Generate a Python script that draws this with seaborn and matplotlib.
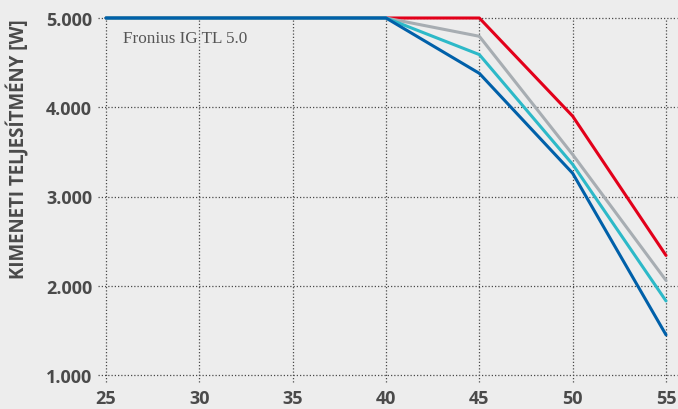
import numpy as np
import pandas as pd
import matplotlib.pyplot as plt
import seaborn as sns

# temperature (deg C) vs output power (W)
temps = [25, 30, 35, 40, 45, 50, 55]
red_vals = [5000, 5000, 5000, 5000, 5000, 3900, 2340]
gray_vals = [5000, 5000, 5000, 5000, 4795, 3470, 2060]
cyan_vals = [5000, 5000, 5000, 5000, 4590, 3360, 1830]
blue_vals = [5000, 5000, 5000, 5000, 4380, 3260, 1450]

series_names = ['red', 'gray', 'cyan', 'blue']
series_colors = ['#e2001a', '#a7adb2', '#2db9c8', '#0060a9']

y_ticks = [1000, 2000, 3000, 4000, 5000]
y_ticklabels = ['1.000', '2.000', '3.000', '4.000', '5.000']

df = pd.DataFrame({'temp': temps * 4,
                   'power': red_vals + gray_vals + cyan_vals + blue_vals,
                   'series': np.repeat(series_names, len(temps))})

sns.set_style('white')
plt.rcParams['font.family'] = ['Open Sans', 'DejaVu Sans']

fig = plt.figure(figsize=(6.78, 4.10), dpi=100)
fig.patch.set_facecolor('#ededed')
ax = fig.add_axes([106/678, 34/410, 560/678, 357/410])
ax.set_facecolor('#ededed')

# dotted grid, sticking out a bit past the axes like small ticks
grid_kw = dict(linestyle=(0, (1, 1.6)), color='#4a4a4a', linewidth=0.9,
               clip_on=False, zorder=0)
for yv in y_ticks:
    ax.axhline(yv, xmin=-0.014, xmax=1.02, **grid_kw)
for xv in temps:
    ax.axvline(xv, ymin=-0.02, ymax=1.0, **grid_kw)

sns.lineplot(data=df, x='temp', y='power', hue='series', hue_order=series_names,
             palette=series_colors, linewidth=2.2, legend=False, ax=ax, clip_on=False)

ax.set_xlim(25, 55)
ax.set_ylim(1000, 5000)
ax.set_xticks(temps)
ax.set_yticks(y_ticks)
ax.set_yticklabels(y_ticklabels)
for s in ax.spines.values():
    s.set_visible(False)
ax.tick_params(length=0, labelsize=13, labelcolor='#4a4a4a')
ax.tick_params(axis='y', pad=10)
ax.tick_params(axis='x', pad=10)
for lbl in ax.get_xticklabels() + ax.get_yticklabels():
    lbl.set_fontweight('bold')
ax.set_xlabel('')
ax.set_ylabel('KIMENETI TELJESÍTMÉNY [W]', fontsize=13.5, fontweight='bold',
              color='#4a4a4a')
ax.yaxis.set_label_coords(-0.137, 0.636)

ax.text(0.03, 0.965, 'Fronius IG TL 5.0', transform=ax.transAxes,
        fontsize=12.3, color='#555555', family=['Liberation Serif', 'DejaVu Serif'],
        va='top', ha='left')

fig.savefig('out.png', dpi=100, facecolor=fig.get_facecolor())
